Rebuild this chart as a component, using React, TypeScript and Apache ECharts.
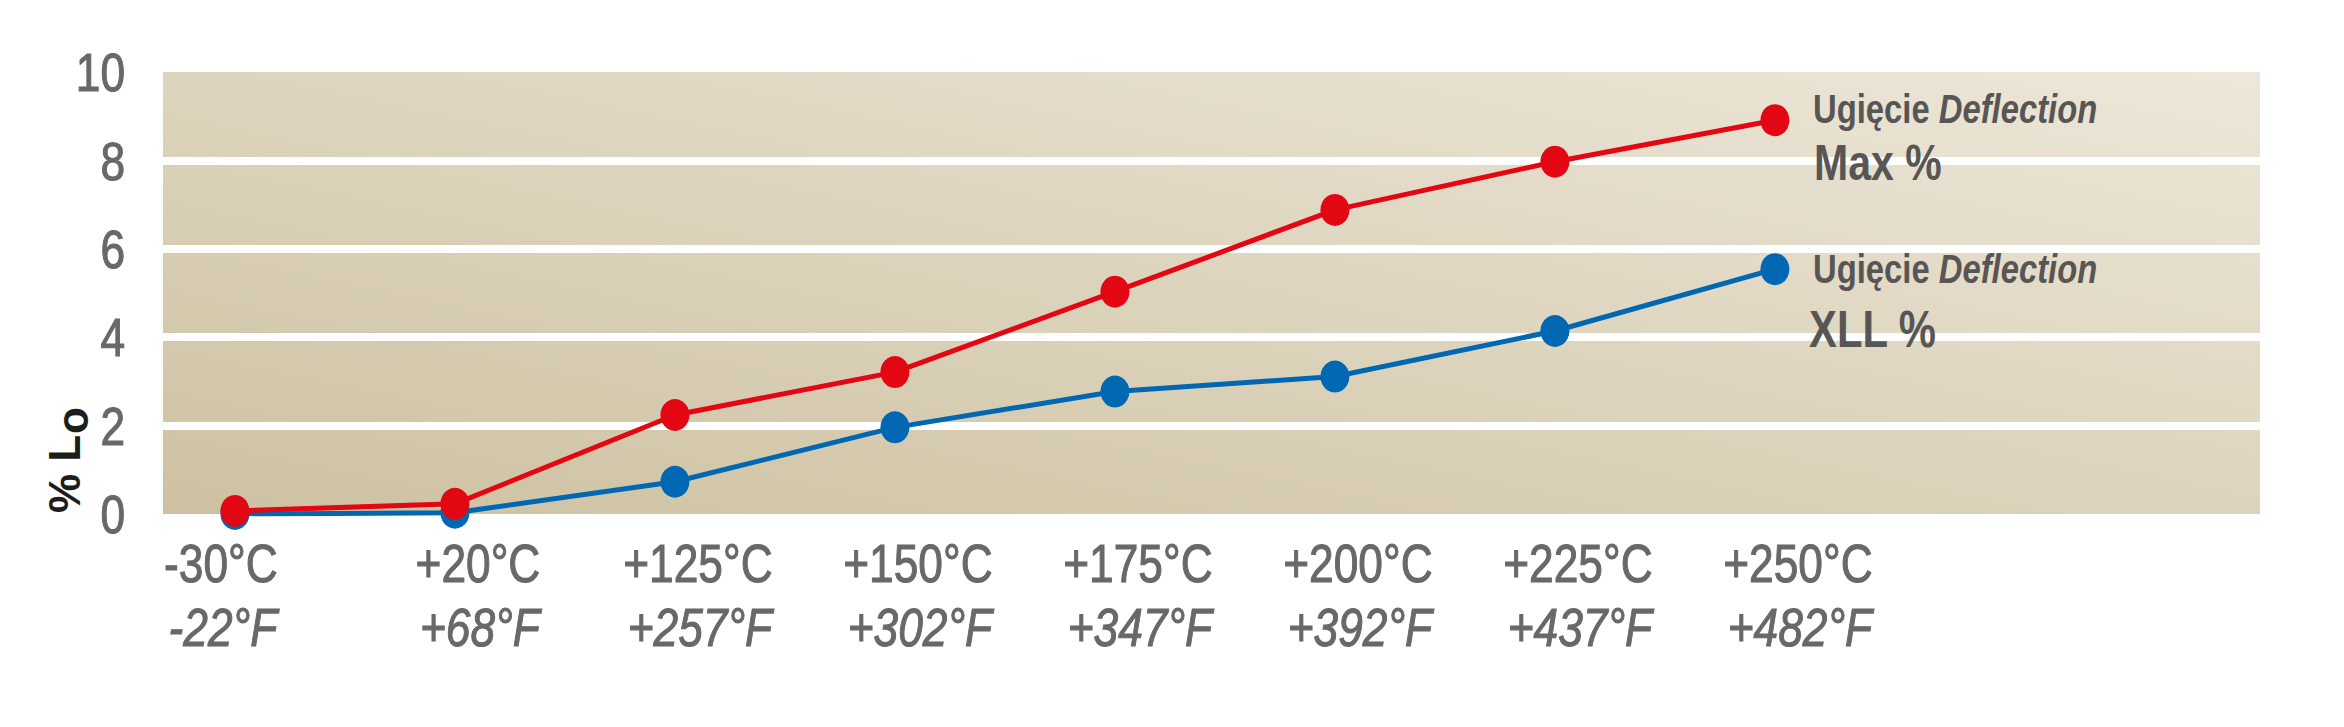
import React, { useEffect, useRef } from "react";
import * as echarts from "echarts";

// ---- data ----
const categoriesC = ["-30°C", "+20°C", "+125°C", "+150°C", "+175°C", "+200°C", "+225°C", "+250°C"];
const categoriesF = ["-22°F", "+68°F", "+257°F", "+302°F", "+347°F", "+392°F", "+437°F", "+482°F"];
const maxDeflection = [0.07, 0.23, 2.24, 3.21, 5.03, 6.88, 7.97, 8.91];
const xllDeflection = [0.0, 0.03, 0.73, 1.96, 2.77, 3.11, 4.14, 5.54];
const yMin = 0;
const yMax = 10;
const yStep = 2;
const legendTitle = "Ugięcie ";
const legendTitleItalic = "Deflection";
const legendMax = "Max %";
const legendXll = "XLL %";
const yAxisName = "% L";
const yAxisNameSub = "o";

const SANS = '"Liberation Sans", Arial, sans-serif';
const NARROW_SCALE = 0.82;
const RED = "#e30613";
const BLUE = "#0067b3";
const TICK_GREY = "#686868";
const LEGEND_GREY = "#575655";

export default function App() {
  const ref = useRef<HTMLDivElement | null>(null);

  useEffect(() => {
    if (!ref.current) return;
    const chart = echarts.init(ref.current, null, { renderer: "svg" });

    const option: any = {
      animation: false,
      backgroundColor: "#ffffff",
      grid: {
        left: 163,
        right: 84,
        top: 72,
        bottom: 213,
        show: true,
        borderWidth: 0,
        backgroundColor: new echarts.graphic.LinearGradient(0, 1, 1, 0, [
          { offset: 0, color: "#cdc1a1" },
          { offset: 0.5, color: "#ddd4bd" },
          { offset: 1, color: "#ede7d9" },
        ]),
      },
      xAxis: {
        type: "value",
        min: -0.327,
        max: 9.205,
        axisLine: { show: false },
        axisTick: { show: false },
        splitLine: { show: false },
        axisLabel: { show: false },
      },
      yAxis: {
        type: "value",
        min: yMin,
        max: yMax,
        interval: yStep,
        axisLine: { show: false },
        axisTick: { show: false },
        axisLabel: { show: false },
        splitLine: {
          show: true,
          showMinLine: false,
          showMaxLine: false,
          lineStyle: { color: "#ffffff", width: 8 },
        },
      },
      series: [
        {
          name: "XLL",
          type: "line",
          data: xllDeflection.map((v, i) => [i, v]),
          symbol: "circle",
          symbolSize: [29, 32],
          itemStyle: { color: BLUE },
          lineStyle: { color: BLUE, width: 5 },
          z: 3,
        },
        {
          name: "Max",
          type: "line",
          data: maxDeflection.map((v, i) => [i, v]),
          symbol: "circle",
          symbolSize: [29, 32],
          itemStyle: { color: RED },
          lineStyle: { color: RED, width: 5 },
          z: 4,
        },
      ],
    };

    chart.setOption(option);

    // narrow tick labels placed through the chart's own scales
    const tickStyle = { fill: TICK_GREY, stroke: TICK_GREY, lineWidth: 1.1 };
    const graphics: any[] = [];
    categoriesC.forEach((c, i) => {
      const [px, py] = chart.convertToPixel({ gridIndex: 0 }, [i, yMin]) as number[];
      const dx = i === 0 ? -14 : 23;
      graphics.push({
        type: "text",
        x: px + dx,
        y: py + 49,
        scaleX: NARROW_SCALE,
        z: 100,
        style: { text: c, align: "center", verticalAlign: "middle", font: `54px ${SANS}`, ...tickStyle },
      });
      graphics.push({
        type: "text",
        x: px + dx + 2,
        y: py + 113,
        scaleX: NARROW_SCALE,
        z: 100,
        style: { text: categoriesF[i], align: "center", verticalAlign: "middle", font: `italic 54px ${SANS}`, ...tickStyle },
      });
    });
    for (let v = yMin; v <= yMax; v += yStep) {
      const [px, py] = chart.convertToPixel({ gridIndex: 0 }, [-0.327, v]) as number[];
      graphics.push({
        type: "text",
        x: px - 38,
        y: py,
        scaleX: NARROW_SCALE,
        z: 100,
        style: { text: String(v), align: "right", verticalAlign: "middle", font: `54px ${SANS}`, ...tickStyle },
      });
    }

    const legendRich = {
      n: { fontFamily: SANS, fontSize: 40, fontWeight: "bold", fill: LEGEND_GREY },
      i: { fontFamily: SANS, fontSize: 40, fontWeight: "bold", fontStyle: "italic", fill: LEGEND_GREY },
    };
    graphics.push(
      {
        type: "text",
        x: 1813,
        y: 109,
        scaleX: NARROW_SCALE,
        z: 100,
        style: {
          text: `{n|${legendTitle}}{i|${legendTitleItalic}}`,
          align: "left",
          verticalAlign: "middle",
          fill: LEGEND_GREY,
          rich: legendRich,
        },
      },
      {
        type: "text",
        x: 1814,
        y: 163,
        scaleX: NARROW_SCALE,
        z: 100,
        style: { text: legendMax, align: "left", verticalAlign: "middle", font: `bold 50px ${SANS}`, fill: LEGEND_GREY },
      },
      {
        type: "text",
        x: 1813,
        y: 269,
        scaleX: NARROW_SCALE,
        z: 100,
        style: {
          text: `{n|${legendTitle}}{i|${legendTitleItalic}}`,
          align: "left",
          verticalAlign: "middle",
          fill: LEGEND_GREY,
          rich: legendRich,
        },
      },
      {
        type: "text",
        x: 1809,
        y: 330,
        scaleX: NARROW_SCALE,
        z: 100,
        style: { text: legendXll, align: "left", verticalAlign: "middle", font: `bold 51px ${SANS}`, fill: LEGEND_GREY },
      },
      {
        type: "group",
        x: 80,
        y: 513,
        rotation: Math.PI / 2,
        z: 100,
        children: [
          {
            type: "text",
            x: 0,
            y: -16,
            style: { text: yAxisName, align: "left", verticalAlign: "middle", font: `bold 44px ${SANS}`, fill: "#1d1d1b" },
          },
          {
            type: "text",
            x: 79,
            y: -8,
            style: { text: yAxisNameSub, align: "left", verticalAlign: "middle", font: `bold 44px ${SANS}`, fill: "#1d1d1b" },
          },
        ],
      }
    );

    chart.setOption({ graphic: graphics });
    return () => chart.dispose();
  }, []);

  return (
    <div
      ref={ref}
      style={{ position: "fixed", left: 0, top: 0, width: 2344, height: 727, background: "#fff" }}
    />
  );
}
